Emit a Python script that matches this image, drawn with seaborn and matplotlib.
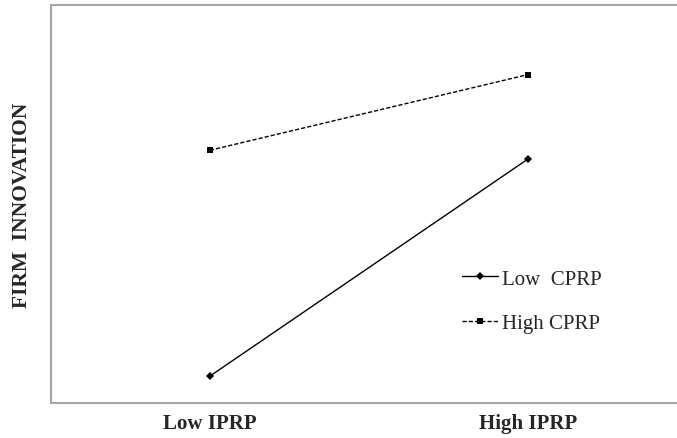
import pandas as pd
import matplotlib
matplotlib.use("Agg")
import matplotlib.pyplot as plt
import seaborn as sns

# values (arbitrary units, axis has no scale)
iprp_levels = ["Low IPRP", "High IPRP"]
low_cprp = [0.27, 2.45]
high_cprp = [2.54, 3.30]
series_names = ["Low  CPRP", "High CPRP"]

data = pd.DataFrame({
    "IPRP": iprp_levels * 2,
    "innovation": low_cprp + high_cprp,
    "CPRP": [series_names[0]] * 2 + [series_names[1]] * 2,
})

sns.set_style("white")
plt.rcParams["font.family"] = ["Liberation Serif", "DejaVu Serif"]

fig = plt.figure(figsize=(6.77, 4.39), dpi=100)
ax = fig.add_axes([51 / 677, 35 / 439, 626 / 677, 398 / 439])

sns.lineplot(data=data, x="IPRP", y="innovation", hue="CPRP", style="CPRP",
             palette=["black", "black"],
             markers={series_names[0]: "D", series_names[1]: "s"},
             dashes={series_names[0]: "", series_names[1]: (3, 1.5)},
             markersize=4.5, linewidth=1.0, markeredgewidth=0, ax=ax)

ax.set_xlim(-0.5, 1.47)
ax.set_ylim(0, 4)
ax.set_yticks([])
ax.tick_params(axis="x", length=0, pad=7)
for lab in ax.get_xticklabels():
    lab.set_fontweight("bold")
    lab.set_fontsize(15)
ax.set_xlabel("")
ax.set_ylabel("FIRM  INNOVATION", fontsize=15.5, fontweight="bold", labelpad=14)

for side in ["left", "bottom", "top"]:
    ax.spines[side].set_color("#a6a6a6")
    ax.spines[side].set_linewidth(1.5)
ax.spines["right"].set_visible(False)

ax.legend(frameon=False, fontsize=15, handlelength=1.7, handletextpad=0.2,
          labelspacing=1.2, borderaxespad=0, loc="center left",
          bbox_to_anchor=(0.644, 0.256))

fig.savefig("out.png", dpi=100)
